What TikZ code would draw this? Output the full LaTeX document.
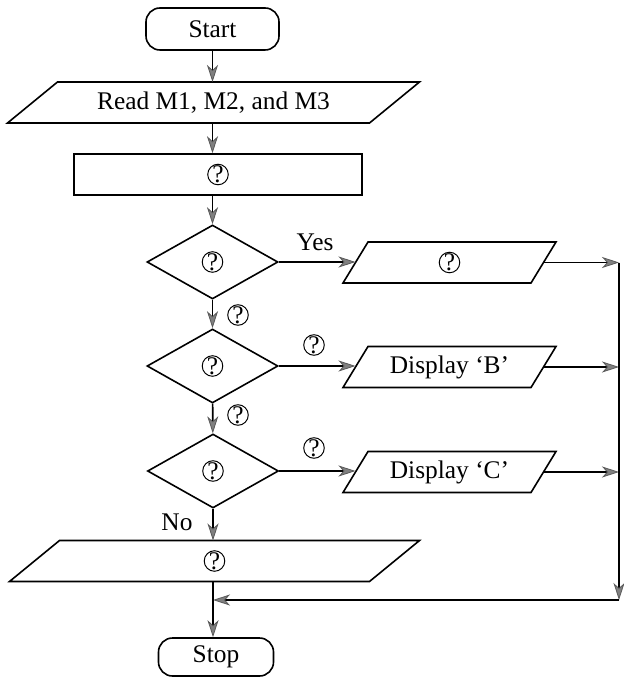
\documentclass[tikz,border=0pt]{standalone}
\usepackage{fontspec}
\setmainfont{Liberation Serif}
\usetikzlibrary{shapes.geometric,arrows.meta}
% parallelogram drawn round a named node: #1 node, #2 half slant
\newcommand{\slantbox}[2]{\draw [line width=0.8pt] ([xshift=-#2]#1.south west) -- ([xshift=#2]#1.north west) -- ([xshift=#2]#1.north east) -- ([xshift=-#2]#1.south east) -- cycle;}

\begin{document}
\begin{tikzpicture}[x=0.5pt,y=-0.5pt]
\tikzstyle{every node}+=[font=\fontsize{12.7}{15}\selectfont,line width=0.8pt]
\tikzstyle{term}=[draw,rectangle,rounded corners=7pt]
\tikzstyle{iobox}=[rectangle,minimum height=20.5pt,outer sep=0pt]
\tikzstyle{proc}=[draw,rectangle,minimum width=144pt,minimum height=20.5pt]
\tikzstyle{decide}=[draw,diamond,minimum width=65.5pt,minimum height=37pt,inner sep=0pt]
\tikzstyle{qcirc}=[draw,circle,inner sep=0pt,line width=0.5pt]
\tikzstyle{flow}=[draw=black,line width=0.8pt,-{Stealth[length=8.5pt,width=5.5pt,inset=2.5pt,color=black!65,fill=black!50,line width=0.4pt]}]
\useasboundingbox (0,0) rectangle (623,678);
% terminals
\node [term,minimum width=66.5pt,minimum height=21pt] (start) at (212.5,29) {Start};
\node [term,minimum width=57.5pt,minimum height=19pt] (stop) at (216,657) {Stop};
% input / output boxes
\node [iobox,minimum width=181pt] (read) at (213.5,102.5) {Read M1, M2, and M3};
\slantbox{read}{12.5pt}
\node [proc] (calc) at (218,174.5) {};
\node [qcirc] (qcalc) at (calc) {?};
\node [iobox,minimum width=94pt] (p1) at (449.5,262.5) {};
\slantbox{p1}{6.25pt}
\node [qcirc] (qp1) at (p1) {?};
\node [iobox,minimum width=94pt] (p2) at (449.5,367) {Display `B'};
\slantbox{p2}{6.25pt}
\node [iobox,minimum width=94pt] (p3) at (449.5,472) {Display `C'};
\slantbox{p3}{6.25pt}
\node [iobox,minimum width=180pt] (out) at (214.5,561) {};
\slantbox{out}{12.5pt}
\node [qcirc] (qout) at (out) {?};
% decisions
\node [decide] (d1) at (212.5,262) {};
\node [qcirc] (qd1) at (d1) {?};
\node [decide] (d2) at (212.5,366) {};
\node [qcirc] (qd2) at (d2) {?};
\node [decide] (d3) at (213,471) {};
\node [qcirc] (qd3) at (d3) {?};
% branch labels
\node (yes) at (315,242) {Yes};
\node (no) at (177,522) {No};
\node [qcirc] (qa1) at (238,315) {?};
\node [qcirc] (qb2) at (314,345) {?};
\node [qcirc] (qa2) at (238,415) {?};
\node [qcirc] (qb3) at (314,448) {?};
% connectors
\coordinate (corner) at (619,600);
\draw [flow] (start) -- (start |- read.north);
\draw [flow] (start |- read.south) -- (start |- calc.north);
\draw [flow] (d1.north |- calc.south) -- (d1);
\draw [flow] (d1) -- (d2);
\draw [flow] (d2) -- (d3);
\draw [flow] (d3) -- (d3 |- out.north);
\draw [flow] (d1.east) -- (d1.east -| p1.west);
\draw [flow] (d2.east) -- (d2.east -| p2.west);
\draw [flow] (d3.east) -- (d3.east -| p3.west);
\draw [flow] (p1.east) -- (p1.east -| corner);
\draw [flow] (p2.east) -- (p2.east -| corner);
\draw [flow] (p3.east) -- (p3.east -| corner);
\draw [flow] (p1.east -| corner) -- (corner);
\draw [flow] (corner) -- (d3 |- corner);
\draw [flow] (d3 |- out.south) -- (d3 |- stop.north);
\end{tikzpicture}
\end{document}
